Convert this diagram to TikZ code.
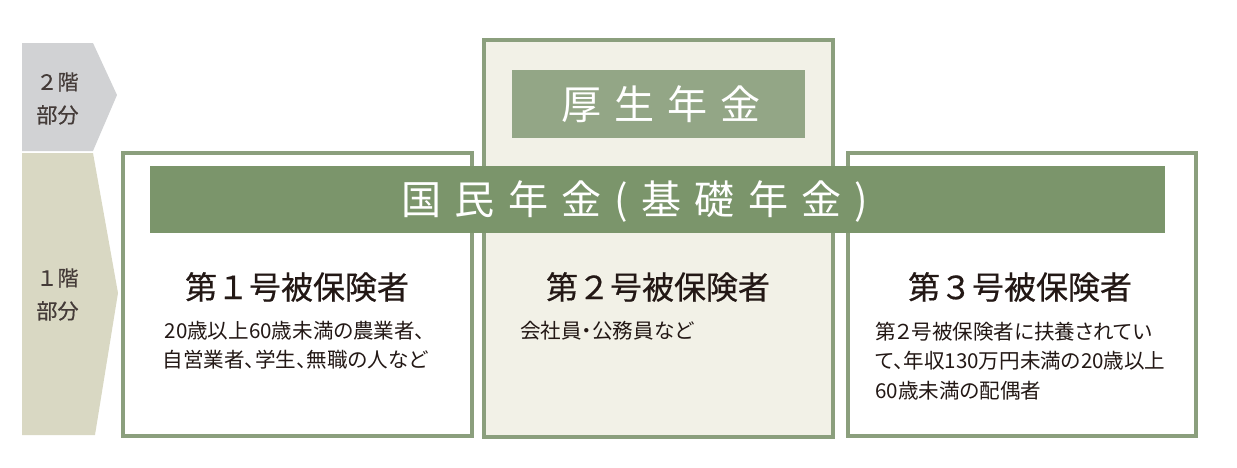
\documentclass[tikz,border=0pt]{standalone}
\usepackage{fontspec}
\setmainfont{Noto Sans CJK JP}
\newfontfamily\bandfont[LetterSpace=33]{Noto Sans CJK JP}
\newfontfamily\notefont[RawFeature=+palt]{Noto Sans CJK JP}
\newfontfamily\titlefont[FakeBold=0.5]{Noto Sans CJK JP}
\usepackage{tikz}
\usetikzlibrary{shadows}
\definecolor{floorgray}{HTML}{D1D2D4}
\definecolor{floorbeige}{HTML}{D9D8C3}
\definecolor{boxgreen}{HTML}{8B9F7D}
\definecolor{paleback}{HTML}{F2F1E7}
\definecolor{kouseigreen}{HTML}{93A686}
\definecolor{kisogreen}{HTML}{7B956B}
\definecolor{ink}{HTML}{231815}
\newcommand{\inkcol}{ink}

\tikzset{
    member/.style={draw=boxgreen, line width=0.9pt,
        drop shadow={opacity=0.25, shadow xshift=0.5pt, shadow yshift=-0.5pt}},
    floor/.style={font=\titlefont\fontsize{6}{9.4}\selectfont, align=center, text=\inkcol!85!white},
    title/.style={font=\titlefont\fontsize{9.1}{11}\selectfont, text=\inkcol},
    note/.style={font=\notefont\fontsize{5.85}{8.3}\selectfont, text=\inkcol, align=left},
    band/.style={font=\bandfont\fontsize{11.4}{13}\selectfont, text=white}
}

\begin{document}
\begin{tikzpicture}

\useasboundingbox (0,0) rectangle (12.37,4.67);

% floors
\fill[floorgray] (0.22,4.24) -- (0.93,4.24) -- (1.17,3.72) --
    (0.93,3.16) -- (0.22,3.16) -- cycle;
\fill[floorbeige] (0.22,3.14) -- (0.93,3.14) -- (1.18,1.74) --
    (0.95,0.32) -- (0.22,0.32) -- cycle;
\node[floor](floorTwo) at (0.575,3.685){２階\\部分};
\node[floor](floorOne) at (0.575,1.725){１階\\部分};

% insured boxes
\filldraw[member, fill=white] (1.23,0.31) rectangle (4.72,3.14);
\filldraw[member, fill=paleback] (4.84,0.30) rectangle (8.33,4.27);
\filldraw[member, fill=white] (8.48,0.31) rectangle (11.96,3.14);

% pensions
\fill[kouseigreen] (5.12,3.29) rectangle (8.05,3.97);
\node[band](kousei) at (6.61,3.63){厚生年金};
\fill[kisogreen] (1.50,2.34) rectangle (11.65,3.01);
\node[band](kokumin) at (6.35,2.65){国民年金(基礎年金)};

% first
\node[title](firstTitle) at (2.97,1.80){第１号被保険者};
\node[note, align=center](firstNote) at (2.95,1.215)
    {20歳以上60歳未満の農業者、\\自営業者、学生、無職の人など};

% second
\node[title](secondTitle) at (6.58,1.80){第２号被保険者};
\node[note, anchor=west](secondNote) at (5.08,1.36){会社員・公務員など};

% third
\node[title](thirdTitle) at (10.20,1.80){第３号被保険者};
\node[note, anchor=west](thirdNote) at (8.63,1.06)
    {第２号被保険者に扶養されてい\\て、年収130万円未満の20歳以上\\60歳未満の配偶者};

\end{tikzpicture}
\end{document}
